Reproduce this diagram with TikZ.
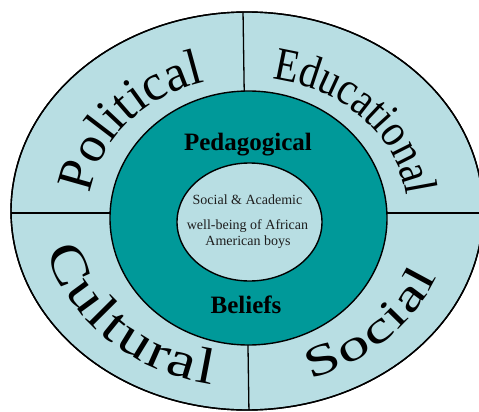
\documentclass[tikz,border=0pt]{standalone}
\usepackage{fontspec}
\setmainfont{Liberation Serif}
\newfontfamily\condserif[FakeStretch=0.85]{Liberation Serif}
\newfontfamily\wideserif[FakeStretch=1.25]{Liberation Serif}
\newfontfamily\widerserif[FakeStretch=1.45]{Liberation Serif}
\usetikzlibrary{decorations.text,calc}
\definecolor{ringlight}{RGB}{184,222,227}
\definecolor{tealdark}{RGB}{0,153,153}
\definecolor{innertext}{RGB}{30,30,30}
\tikzset{
  border/.style={draw=black,line width=1.4pt},
  divider/.style={draw=black,line width=1.3pt},
  ringword/.style={decorate,decoration={text along path,text align=center,text={#1}}},
  ringfit/.style={decorate,decoration={text along path,text align=fit to path,text={#1}}},
  beliefword/.style={font=\fontsize{25}{25}\selectfont\bfseries,text=black,anchor=base,inner sep=0pt},
  innerline/.style={font=\fontsize{14}{14}\selectfont,text=innertext,anchor=base,inner sep=0pt}
}
\begin{document}
\begin{tikzpicture}[x=1pt,y=1pt]
\useasboundingbox (0,0) rectangle (479,-412);
\coordinate (C) at (247,-211);
\coordinate (M) at (248.5,-218);
\coordinate (I) at (249.5,-222);
\coordinate (topend) at (243,-10);
\coordinate (botend) at (249,-414);
\coordinate (leftend) at (8,-213);
\coordinate (rightend) at (490,-213);
\begin{scope}
\clip (0,0) rectangle (479,-412);
\fill[white] (0,0) rectangle (479,-412);
\path[border,fill=ringlight] (C) ellipse [x radius=236, y radius=199];
\begin{scope}
\clip (C) ellipse [x radius=236, y radius=199];
\path[divider] (topend) -- (botend);
\path[divider] (leftend) -- (rightend);
\end{scope}
\path[border] (C) ellipse [x radius=236, y radius=199];
\end{scope}
\path[border,fill=tealdark] (M) ellipse [x radius=138.5, y radius=127];
\path[border,fill=ringlight] (I) ellipse [x radius=72.5, y radius=59];
% ring words
\path[ringword={|\fontsize{51}{51}\selectfont|Political}]
  ([shift={(187:158 and 134)}]C) arc[start angle=187, end angle=93, x radius=158, y radius=134];
\path[ringword={|\condserif\fontsize{47}{47}\selectfont|Educational}]
  ([shift={(88:160 and 134)}]C) arc[start angle=88, end angle=-2, x radius=160, y radius=134];
\path[ringfit={|\wideserif\fontsize{51}{51}\selectfont|Cultural}]
  ([shift={(193:205 and 176)}]C) arc[start angle=193, end angle=260, x radius=205, y radius=176];
\path[ringfit={|\widerserif\fontsize{44}{44}\selectfont|Social}]
  ([shift={(-72:205 and 176)}]C) arc[start angle=-72, end angle=-22, x radius=205, y radius=176];
% middle ring words
\node[beliefword] (ped) at (248,-150) {Pedagogical};
\node[beliefword] (bel) at (246,-313) {Beliefs};
% inner text
\node[innerline] (l1) at (247.5,-204) {Social \& Academic};
\node[innerline] (l2) at (247.5,-229) {well-being of African};
\node[innerline] (l3) at (248,-245) {American boys};
\end{tikzpicture}
\end{document}
